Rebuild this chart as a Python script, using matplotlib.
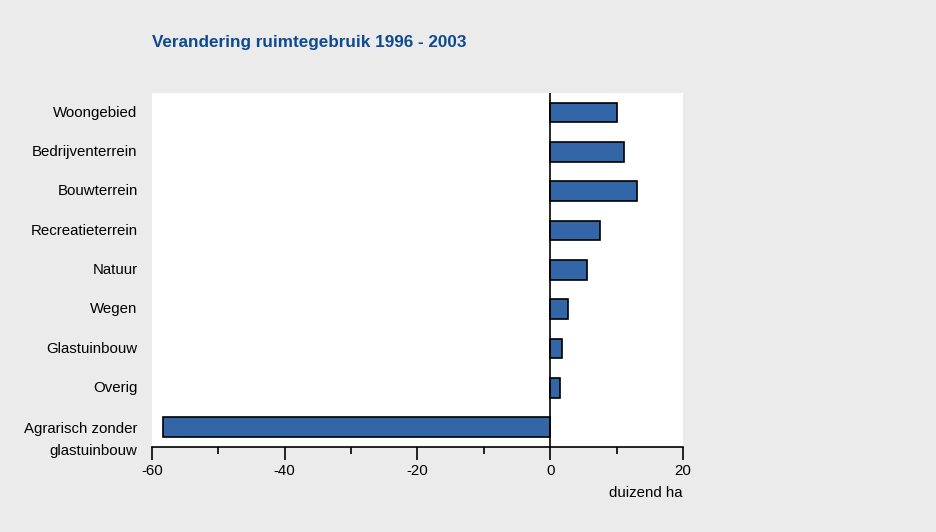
import matplotlib.pyplot as plt

# data
categories = ['Woongebied', 'Bedrijventerrein', 'Bouwterrein', 'Recreatieterrein',
              'Natuur', 'Wegen', 'Glastuinbouw', 'Overig', 'Agrarisch zonder\nglastuinbouw']
values = [10.1, 11.1, 13.1, 7.5, 5.6, 2.7, 1.7, 1.4, -58.3]
major_ticks = [-60, -40, -20, 0, 20]
minor_ticks = [-50, -30, -10, 10]

plt.rcParams['font.family'] = ['Liberation Sans', 'DejaVu Sans']

bg = '#ebebeb'
fig = plt.figure(figsize=(9.37, 5.32), dpi=100, facecolor=bg)
ax = fig.add_axes([0.1622, 0.1598, 0.5667, 0.6654])
ax.set_facecolor('white')

y = list(range(len(categories)))
ax.barh(y, values, height=0.5, color='#3366a6', edgecolor='black', linewidth=1.2, zorder=3)

ax.set_xlim(-60, 20)
ax.set_ylim(len(categories) - 0.5, -0.5)
ax.axvline(0, color='black', linewidth=1.2, zorder=4)

for s in ['top', 'right', 'left']:
    ax.spines[s].set_visible(False)
ax.spines['bottom'].set_linewidth(1.2)

ax.set_xticks(major_ticks)
ax.set_xticks(minor_ticks, minor=True)
ax.set_xticklabels([str(t) for t in major_ticks])
ax.tick_params(axis='x', which='major', length=9, width=1.2, labelsize=10.8, pad=3)
ax.tick_params(axis='x', which='minor', length=5, width=1.2)
ax.set_yticks([])

trans = ax.get_yaxis_transform()
for i, name in enumerate(categories):
    yy = i + 0.33 if '\n' in name else i
    ax.text(-0.027, yy, name, transform=trans, ha='right', va='center',
            fontsize=10.8, linespacing=1.7)

ax.text(1.0, -0.13, 'duizend ha', transform=ax.transAxes, ha='right', va='center', fontsize=10.8)

fig.text(0.1622, 0.921, 'Verandering ruimtegebruik 1996 - 2003', ha='left', va='center',
         fontsize=12.3, fontweight='bold', color='#0d4a8f')

fig.savefig('out.png', dpi=100, facecolor=bg)
